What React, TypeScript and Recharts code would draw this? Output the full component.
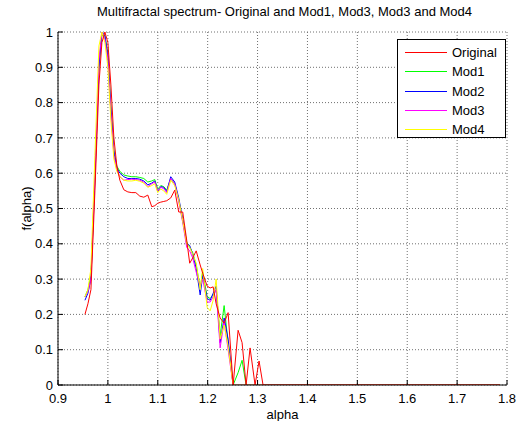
import { CartesianGrid, Line, LineChart, XAxis, YAxis } from 'recharts';

const alpha = [
  0.954, 0.96, 0.966, 0.974, 0.982, 0.988, 0.994, 1.0, 1.006, 1.012, 1.018, 1.024, 1.032,
  1.04, 1.048, 1.056, 1.064, 1.072, 1.08, 1.088, 1.094, 1.1, 1.106, 1.112, 1.118, 1.126,
  1.134, 1.142, 1.15, 1.158, 1.164, 1.17, 1.177, 1.185, 1.19, 1.199, 1.205, 1.211, 1.217,
  1.225, 1.233, 1.241, 1.251, 1.261, 1.269, 1.277, 1.285, 1.295, 1.303, 1.311, 1.321, 1.786,
];

const original = [
  0.2, 0.23, 0.27, 0.55, 0.85, 0.97, 1.0, 0.97, 0.85, 0.7, 0.62, 0.58, 0.553, 0.547, 0.545,
  0.545, 0.535, 0.532, 0.538, 0.505, 0.508, 0.515, 0.518, 0.52, 0.522, 0.53, 0.552, 0.49,
  0.49, 0.41, 0.345, 0.36, 0.38, 0.34, 0.317, 0.28, 0.275, 0.278, 0.23, 0.19, 0.175, 0.205,
  0, 0.155, 0.12, 0, 0.105, 0, 0.068, 0, 0, 0,
];

const mod1 = [
  0.25, 0.27, 0.31, 0.59, 0.9, 0.99, 0.99, 0.94, 0.79, 0.665, 0.62, 0.605, 0.595, 0.592,
  0.59, 0.59, 0.588, 0.585, 0.575, 0.578, 0.582, 0.555, 0.565, 0.562, 0.552, 0.585, 0.57,
  0.525, 0.465, 0.405, 0.39, 0.375, 0.34, 0.275, 0.32, 0.25, 0.245, 0.255, 0.27, 0.14, 0.225,
  0.12, 0, 0.035, 0.07, 0, 0, 0, 0, 0, 0, 0,
];

const mod2 = [
  0.24, 0.26, 0.3, 0.58, 0.9, 1.0, 0.99, 0.93, 0.78, 0.66, 0.615, 0.6, 0.59, 0.585, 0.585,
  0.585, 0.583, 0.578, 0.567, 0.572, 0.578, 0.548, 0.562, 0.56, 0.548, 0.59, 0.575, 0.53,
  0.47, 0.4, 0.395, 0.37, 0.33, 0.255, 0.31, 0.245, 0.24, 0.26, 0.28, 0.12, 0.19, 0.13, 0,
  0, 0, 0, 0, 0, 0, 0, 0, 0,
];

const mod3 = [
  0.25, 0.265, 0.3, 0.6, 0.92, 1.0, 0.98, 0.92, 0.77, 0.65, 0.61, 0.59, 0.58, 0.582, 0.583,
  0.582, 0.58, 0.575, 0.562, 0.57, 0.575, 0.55, 0.56, 0.556, 0.545, 0.585, 0.57, 0.52, 0.46,
  0.39, 0.38, 0.36, 0.32, 0.28, 0.3, 0.235, 0.235, 0.25, 0.27, 0.105, 0.18, 0.1, 0, 0, 0, 0,
  0, 0, 0, 0, 0, 0,
];

const mod4 = [
  0.25, 0.27, 0.33, 0.65, 0.96, 1.0, 0.97, 0.9, 0.75, 0.64, 0.605, 0.59, 0.58, 0.578, 0.578,
  0.58, 0.577, 0.572, 0.56, 0.565, 0.57, 0.545, 0.555, 0.55, 0.54, 0.58, 0.565, 0.525, 0.465,
  0.4, 0.39, 0.37, 0.345, 0.27, 0.33, 0.22, 0.21, 0.24, 0.3, 0.13, 0.17, 0.11, 0, 0, 0, 0, 0,
  0, 0, 0, 0, 0,
];

const xTicks = [0.9, 1, 1.1, 1.2, 1.3, 1.4, 1.5, 1.6, 1.7, 1.8];
const yTicks = [0, 0.1, 0.2, 0.3, 0.4, 0.5, 0.6, 0.7, 0.8, 0.9, 1];

const legendNames = ['Original', 'Mod1', 'Mod2', 'Mod3', 'Mod4'];
const legendColors = ['#ff0000', '#00ff00', '#0000ff', '#ff00ff', '#ffff00'];

const data = alpha.map((a, i) => ({
  alpha: a,
  Original: original[i],
  Mod1: mod1[i],
  Mod2: mod2[i],
  Mod3: mod3[i],
  Mod4: mod4[i],
}));

// drawn order: mods first, red on top
const drawOrder = [1, 2, 3, 4, 0];

const font = '"Liberation Sans", Arial, sans-serif';

export default function App() {
  return (
    <div
      style={{
        position: 'absolute',
        left: 0,
        top: 0,
        width: 525,
        height: 421,
        background: '#fff',
        fontFamily: font,
      }}
    >
      {/* TITLE */}
      <div
        style={{
          position: 'absolute',
          top: 4,
          left: 0,
          width: 569,
          textAlign: 'center',
          fontSize: 13,
          lineHeight: '15px',
          color: '#000',
          whiteSpace: 'nowrap',
        }}
      >
        Multifractal spectrum- Original and Mod1, Mod3, Mod3 and Mod4
      </div>

      <LineChart
        width={525}
        height={421}
        data={data}
        margin={{ top: 32, right: 18, bottom: 0, left: 0 }}
        style={{ fontFamily: font }}
      >
        <CartesianGrid
          stroke="#707070"
          strokeDasharray="1 2"
          horizontalValues={yTicks}
          verticalValues={xTicks}
        />
        <XAxis
          dataKey="alpha"
          type="number"
          domain={[0.9, 1.8]}
          ticks={xTicks}
          interval={0}
          height={36}
          tickSize={-5}
          tickMargin={14}
          stroke="#000"
          tick={{ fill: '#000', fontSize: 13 }}
          allowDataOverflow
          label={{ value: 'alpha', position: 'insideBottom', offset: 2, fill: '#000', fontSize: 13 }}
        />
        <XAxis
          xAxisId="top"
          orientation="top"
          dataKey="alpha"
          type="number"
          domain={[0.9, 1.8]}
          ticks={xTicks}
          interval={0}
          height={0}
          tickSize={-5}
          stroke="#000"
          tick={false}
          allowDataOverflow
        />
        <YAxis
          type="number"
          domain={[0, 1]}
          ticks={yTicks}
          interval={0}
          width={58}
          tickSize={-5}
          tickMargin={10}
          stroke="#000"
          tick={{ fill: '#000', fontSize: 13 }}
          allowDataOverflow
          label={{ value: 'f(alpha)', angle: -90, position: 'center', dx: -3, fill: '#000', fontSize: 13 }}
        />
        <YAxis
          yAxisId="right"
          orientation="right"
          type="number"
          domain={[0, 1]}
          ticks={yTicks}
          interval={0}
          width={0}
          tickSize={-5}
          stroke="#000"
          tick={false}
          allowDataOverflow
        />
        {drawOrder.map((k) => (
          <Line
            key={legendNames[k]}
            type="linear"
            dataKey={legendNames[k]}
            stroke={legendColors[k]}
            strokeWidth={1}
            dot={false}
            isAnimationActive={false}
          />
        ))}
      </LineChart>

      {/* LEGEND */}
      <div
        style={{
          position: 'absolute',
          left: 397,
          top: 39,
          width: 107,
          height: 97,
          border: '1px solid #000',
          background: '#fff',
        }}
      >
        {legendNames.map((name, i) => {
          const top = Math.round(4 + i * 19.3);
          return (
            <div key={name}>
              <div
                style={{
                  position: 'absolute',
                  left: 7,
                  top: top + 8,
                  width: 42,
                  height: 1,
                  background: legendColors[i],
                }}
              />
              <div
                style={{
                  position: 'absolute',
                  left: 54,
                  top,
                  height: 17,
                  lineHeight: '17px',
                  fontSize: 13,
                  color: '#000',
                  whiteSpace: 'nowrap',
                }}
              >
                {name}
              </div>
            </div>
          );
        })}
      </div>
    </div>
  );
}
